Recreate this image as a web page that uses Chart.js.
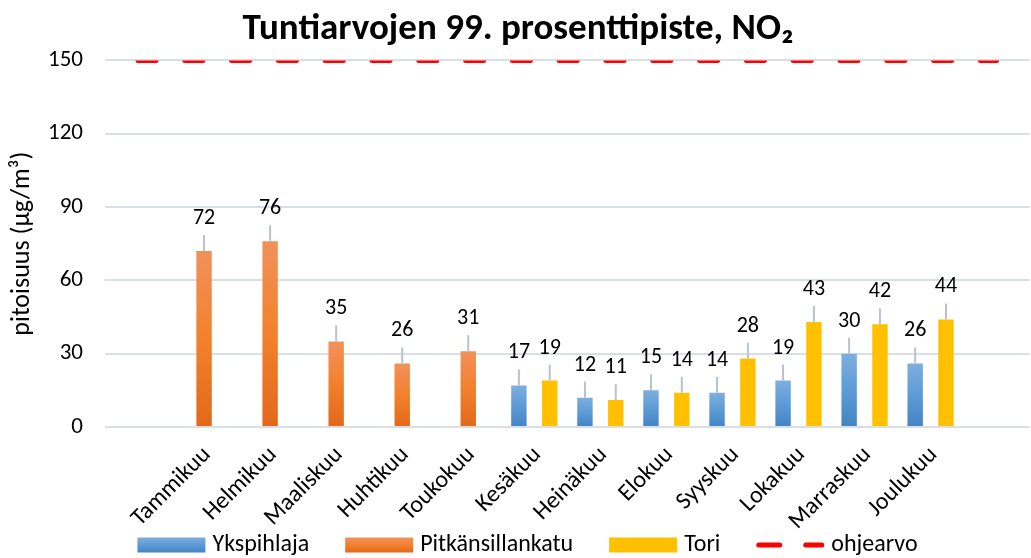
<!DOCTYPE html>
<html>
<head>
<meta charset="utf-8">
<script src="https://cdn.jsdelivr.net/npm/chart.js@4.4.0/dist/chart.umd.min.js"></script>
<style>
  html, body { margin: 0; padding: 0; background: #fff; }
</style>
</head>
<body>
<canvas id="chart" width="1031" height="558"></canvas>
<script>
// Luokat: alkuperäisessä kaaviossa tyhjä luokka alussa ja lopussa
const months = ['', 'Tammikuu', 'Helmikuu', 'Maaliskuu', 'Huhtikuu', 'Toukokuu', 'Kesäkuu',
  'Heinäkuu', 'Elokuu', 'Syyskuu', 'Lokakuu', 'Marraskuu', 'Joulukuu', ''];
const ykspihlaja = [null, null, null, null, null, null, 17, 12, 15, 14, 19, 30, 26, null];
const pitkansillankatu = [null, 72, 76, 35, 26, 31, null, null, null, null, null, null, null, null];
const tori = [null, null, null, null, null, null, 19, 11, 14, 28, 43, 42, 44, null];
const ohjearvo = [150, 150, 150, 150, 150, 150, 150, 150, 150, 150, 150, 150, 150, 150];
const yTicks = [0, 30, 60, 90, 120, 150];

const FONT = 'Calibri, Carlito, Lato, sans-serif';
Chart.defaults.font.family = FONT;
Chart.defaults.color = '#000';

// Pystysuora liukuväri jokaiseen palkkiin erikseen
function barGradient(stops) {
  return function (c) {
    const chart = c.chart;
    const v = c.raw;
    if (!chart.chartArea || v == null || c.type !== 'data') return stops[1];
    const y = chart.scales.y;
    const g = chart.ctx.createLinearGradient(0, y.getPixelForValue(v), 0, y.getPixelForValue(0));
    g.addColorStop(0, stops[0]);
    g.addColorStop(0.5, stops[1]);
    g.addColorStop(1, stops[2]);
    return g;
  };
}

const blueStops = ['#7EAEDF', '#5D9BD6', '#4384C5'];
const orangeStops = ['#F1915A', '#F2812D', '#E2681A'];
const yellowStops = ['#FFC000', '#FFC000', '#FFC000'];

// Arvot palkkien yläpuolelle ohjausviivan kanssa
const dataLabels = {
  id: 'dataLabels',
  afterDatasetsDraw(chart) {
    const ctx = chart.ctx;
    chart.data.datasets.forEach((ds, i) => {
      if (ds.type === 'line') return;
      const meta = chart.getDatasetMeta(i);
      meta.data.forEach((bar, j) => {
        const v = ds.data[j];
        if (v == null) return;
        ctx.save();
        ctx.strokeStyle = '#B7C2D0';
        ctx.lineWidth = 2;
        ctx.beginPath();
        ctx.moveTo(bar.x, bar.y);
        ctx.lineTo(bar.x, bar.y - 16);
        ctx.stroke();
        ctx.fillStyle = '#000';
        ctx.font = '22px ' + FONT;
        ctx.textAlign = 'center';
        ctx.textBaseline = 'alphabetic';
        ctx.fillText(v, bar.x, bar.y - 27);
        ctx.restore();
      });
    });
  }
};

// Oma selite alareunaan
const bottomLegend = {
  id: 'bottomLegend',
  afterDraw(chart) {
    const ctx = chart.ctx;
    const boxW = 68, boxH = 15, textGap = 7, itemGap = 36;
    const cy = chart.height - 13;
    ctx.save();
    ctx.font = '24px ' + FONT;
    const items = chart.data.datasets.map(ds => ({ ds, w: ctx.measureText(ds.label).width }));
    const total = items.reduce((s, it) => s + boxW + textGap + it.w, 0) + itemGap * (items.length - 1);
    let x = chart.width / 2 + 12 - total / 2;
    items.forEach(it => {
      const ds = it.ds;
      if (ds.type === 'line') {
        ctx.strokeStyle = ds.borderColor;
        ctx.lineWidth = 5;
        ctx.lineCap = 'round';
        ctx.setLineDash([21, 26]);
        ctx.beginPath();
        ctx.moveTo(x + 2.5, cy);
        ctx.lineTo(x + boxW - 2.5, cy);
        ctx.stroke();
        ctx.setLineDash([]);
      } else {
        const g = ctx.createLinearGradient(0, cy - boxH / 2, 0, cy + boxH / 2);
        g.addColorStop(0, ds.stops[0]);
        g.addColorStop(0.5, ds.stops[1]);
        g.addColorStop(1, ds.stops[2]);
        ctx.fillStyle = g;
        ctx.fillRect(x, cy - boxH / 2, boxW, boxH);
      }
      x += boxW + textGap;
      ctx.fillStyle = '#000';
      ctx.textAlign = 'left';
      ctx.textBaseline = 'middle';
      ctx.fillText(ds.label, x, cy);
      x += it.w + itemGap;
    });
    ctx.restore();
  }
};

const ctx = document.getElementById('chart').getContext('2d');
new Chart(ctx, {
  type: 'bar',
  data: {
    labels: months,
    datasets: [
      { label: 'Ykspihlaja', data: ykspihlaja, backgroundColor: barGradient(blueStops), stops: blueStops },
      { label: 'Pitkänsillankatu', data: pitkansillankatu, backgroundColor: barGradient(orangeStops), stops: orangeStops },
      { label: 'Tori', data: tori, backgroundColor: barGradient(yellowStops), stops: yellowStops },
      {
        type: 'line', label: 'ohjearvo', data: ohjearvo,
        borderColor: '#FF0000', borderWidth: 5, borderDash: [18, 28.8], borderCapStyle: 'round',
        pointRadius: 0, fill: false
      }
    ]
  },
  options: {
    responsive: false,
    animation: false,
    categoryPercentage: 0.7,
    barPercentage: 1.0,
    layout: { padding: { left: 0, right: -5, top: 0, bottom: 23 } },
    plugins: {
      title: {
        display: true,
        text: 'Tuntiarvojen 99. prosenttipiste, NO₂',
        color: '#000',
        font: { size: 37, weight: 'bold' },
        padding: { top: 8, bottom: 8 }
      },
      legend: { display: false },
      tooltip: { enabled: false }
    },
    scales: {
      x: {
        offset: true,
        grid: { display: false, drawTicks: false },
        border: { display: false },
        ticks: {
          autoSkip: false,
          minRotation: 45,
          maxRotation: 45,
          padding: 14,
          labelOffset: 3,
          font: { size: 24 }
        },
        afterFit(scale) {
          scale.height = 108;
        }
      },
      y: {
        min: 0,
        max: 150,
        afterBuildTicks(scale) {
          scale.ticks = yTicks.map(v => ({ value: v }));
        },
        grid: { color: '#DADFE6', lineWidth: 2, drawTicks: false },
        border: { display: false },
        ticks: { padding: 22, font: { size: 23 } },
        title: {
          display: true,
          text: 'pitoisuus (µg/m³)',
          font: { size: 26 },
          padding: { top: 7, bottom: 0 }
        },
        afterFit(scale) {
          scale.width = 105;
        }
      }
    }
  },
  plugins: [dataLabels, bottomLegend]
});
</script>
</body>
</html>
